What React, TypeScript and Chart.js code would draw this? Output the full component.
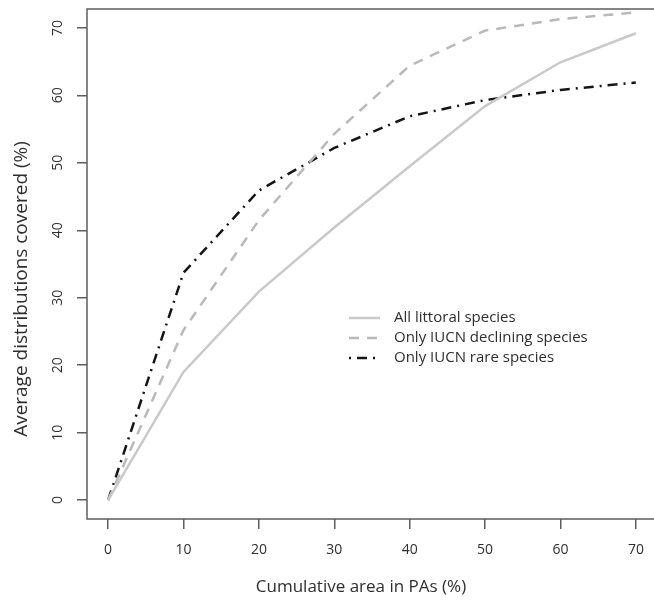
import { useEffect, useRef } from "react";
import { Chart, registerables } from "chart.js";

Chart.register(...registerables);

// ---- data ----
const cumulativeArea = [0, 10, 20, 30, 40, 50, 60, 70];
const allLittoral = [0, 19.0, 30.9, 40.4, 49.5, 58.4, 64.9, 69.2];
const iucnDeclining = [0, 25.2, 41.5, 54.3, 64.4, 69.6, 71.3, 72.3];
const iucnRare = [0, 33.7, 45.9, 52.2, 56.9, 59.3, 60.8, 61.9];
const xTickValues = [0, 10, 20, 30, 40, 50, 60, 70];
const yTickValues = [0, 10, 20, 30, 40, 50, 60, 70];
const seriesNames = [
  "All littoral species",
  "Only IUCN declining species",
  "Only IUCN rare species",
];
const xTitle = "Cumulative area in PAs (%)";
const yTitle = "Average distributions covered (%)";

const FONT = '"Open Sans", "Noto Sans", sans-serif';
const AXIS = "#5e5e5e";
const TEXT = "#2e2e2e";

const decor = {
  id: "decor",
  beforeDatasetsDraw(chart: any) {
    const { ctx, chartArea: a } = chart;
    ctx.save();
    ctx.strokeStyle = AXIS;
    ctx.lineWidth = 1.5;
    ctx.setLineDash([]);
    ctx.beginPath();
    ctx.moveTo(a.right + 5, a.top);
    ctx.lineTo(a.left, a.top);
    ctx.lineTo(a.left, a.bottom);
    ctx.lineTo(a.right + 5, a.bottom);
    ctx.stroke();
    ctx.restore();
  },
  afterDraw(chart: any) {
    const { ctx, chartArea: a } = chart;
    ctx.save();
    // legend
    chart.data.datasets.forEach((ds: any, i: number) => {
      const y = a.top + 309 + i * 20;
      const x0 = a.left + 262;
      ctx.beginPath();
      ctx.setLineDash(ds.borderDash || []);
      ctx.lineDashOffset = ds.legendDashOffset || 0;
      ctx.strokeStyle = ds.borderColor;
      ctx.lineWidth = ds.borderWidth;
      ctx.lineCap = "butt";
      ctx.moveTo(x0, y);
      ctx.lineTo(x0 + 31, y);
      ctx.stroke();
      ctx.setLineDash([]);
      ctx.fillStyle = TEXT;
      ctx.font = `15px ${FONT}`;
      ctx.textAlign = "left";
      ctx.textBaseline = "middle";
      ctx.fillText(ds.label, x0 + 45, y);
    });
    // axis titles
    ctx.fillStyle = TEXT;
    ctx.textAlign = "center";
    ctx.textBaseline = "middle";
    ctx.font = `17px ${FONT}`;
    ctx.fillText(xTitle, 361, 587);
    ctx.save();
    ctx.translate(22, 289);
    ctx.rotate(-Math.PI / 2);
    ctx.font = `19px ${FONT}`;
    ctx.fillText(yTitle, 0, 0);
    ctx.restore();
    ctx.restore();
  },
};

function toPoints(ys: number[]) {
  return cumulativeArea.map((x, i) => ({ x, y: ys[i] }));
}

export default function App() {
  const ref = useRef<HTMLCanvasElement | null>(null);

  useEffect(() => {
    if (!ref.current) return;
    Chart.defaults.font.family = FONT;
    Chart.defaults.color = TEXT;
    const chart = new Chart(ref.current, {
      type: "line",
      data: {
        datasets: [
          {
            label: seriesNames[0],
            data: toPoints(allLittoral),
            borderColor: "#c9c9c9",
            borderWidth: 2.5,
            pointRadius: 0,
            tension: 0,
            fill: false,
          } as any,
          {
            label: seriesNames[1],
            data: toPoints(iucnDeclining),
            borderColor: "#b9b9b9",
            borderWidth: 2.5,
            borderDash: [10, 8],
            pointRadius: 0,
            tension: 0,
            fill: false,
          } as any,
          {
            label: seriesNames[2],
            data: toPoints(iucnRare),
            borderColor: "#151515",
            borderWidth: 2.5,
            borderDash: [10, 6, 2, 6],
            legendDashOffset: 16,
            pointRadius: 0,
            tension: 0,
            fill: false,
          } as any,
        ],
      },
      options: {
        animation: false,
        responsive: false,
        devicePixelRatio: 1,
        layout: { padding: { top: 9, right: 13, left: 0, bottom: 0 } },
        plugins: {
          legend: { display: false },
          tooltip: { enabled: false },
        },
        scales: {
          x: {
            type: "linear",
            min: -2.8,
            max: 72.8,
            afterBuildTicks: (s: any) => {
              s.ticks = xTickValues.map((v) => ({ value: v }));
            },
            afterFit: (s: any) => {
              s.height = 81;
              s.paddingLeft = 0;
              s.paddingRight = 0;
              s.paddingTop = 0;
              s.paddingBottom = 0;
            },
            border: { display: false },
            grid: {
              drawOnChartArea: false,
              drawTicks: true,
              tickLength: 10,
              color: AXIS,
              lineWidth: 1.5,
            },
            ticks: {
              padding: 13,
              maxRotation: 0,
              font: { size: 14, family: FONT },
              color: TEXT,
            },
          },
          y: {
            type: "linear",
            min: -2.8,
            max: 72.8,
            afterBuildTicks: (s: any) => {
              s.ticks = yTickValues.map((v) => ({ value: v }));
            },
            afterFit: (s: any) => {
              s.width = 87;
              s.paddingLeft = 0;
              s.paddingRight = 0;
              s.paddingTop = 0;
              s.paddingBottom = 0;
            },
            border: { display: false },
            grid: {
              drawOnChartArea: false,
              drawTicks: true,
              tickLength: 10,
              color: AXIS,
              lineWidth: 1.5,
            },
            ticks: {
              padding: 11,
              minRotation: 90,
              maxRotation: 90,
              crossAlign: "center",
              font: { size: 14, family: FONT },
              color: TEXT,
            },
          },
        },
      },
      plugins: [decor],
    } as any);
    return () => chart.destroy();
  }, []);

  return (
    <div
      style={{
        position: "fixed",
        left: 0,
        top: 0,
        width: 654,
        height: 600,
        overflow: "hidden",
        background: "#ffffff",
      }}
    >
      <canvas ref={ref} width={670} height={600} style={{ display: "block" }} />
    </div>
  );
}
